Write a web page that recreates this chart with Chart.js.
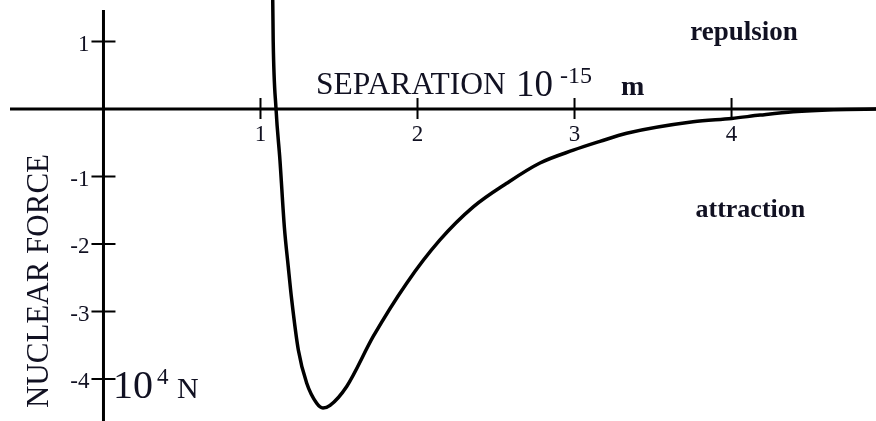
<!DOCTYPE html>
<html>
<head>
<meta charset="utf-8">
<script src="https://cdn.jsdelivr.net/npm/chart.js@4/dist/chart.umd.min.js"></script>
<style>
  html, body { margin: 0; padding: 0; background: #fff; }
  #wrap { width: 876px; height: 421px; position: relative; }
</style>
</head>
<body>
<div id="wrap"><canvas id="force-chart"></canvas></div>
<script>
  // separation in 1e-15 m, force in 1e4 N
  const separacion = [1.06, 1.078, 1.081, 1.099, 1.124, 1.152, 1.177, 1.199, 1.241, 1.294, 1.358, 1.398,
    1.443, 1.549, 1.718, 1.931, 2.143, 2.355, 2.568, 2.78, 2.992, 3.162, 3.332, 3.755, 4.001, 4.182,
    4.392, 4.65, 4.95];
  const fuerza = [2.4, 1.6, 1.0, 0, -0.76, -1.75, -2.34, -2.83, -3.57, -4.06, -4.36, -4.43,
    -4.39, -4.11, -3.37, -2.58, -1.94, -1.45, -1.10, -0.80, -0.61, -0.48, -0.36, -0.19, -0.14, -0.09,
    -0.04, -0.01, 0];

  const ticksX = [1, 2, 3, 4];
  const ticksY = [1, -1, -2, -3, -4];

  const SERIF = '"Liberation Serif", "Times New Roman", serif';
  const INK = '#111122';

  // draws both axes crossing at the origin, tick marks and all the text
  const ejes = {
    id: 'ejes',
    beforeDatasetsDraw(chart) {
      const { ctx, scales: { x, y } } = chart;
      const x0 = x.getPixelForValue(0);
      const y0 = y.getPixelForValue(0);
      ctx.save();
      ctx.strokeStyle = '#000';
      ctx.lineWidth = 3;
      ctx.beginPath();
      ctx.moveTo(10, y0); ctx.lineTo(chart.width, y0);
      ctx.moveTo(x0, 10); ctx.lineTo(x0, chart.height);
      ctx.stroke();

      ctx.lineWidth = 2;
      ctx.beginPath();
      ticksX.forEach(v => {
        const px = x.getPixelForValue(v);
        ctx.moveTo(px, y0 - 11); ctx.lineTo(px, y0 + 10);
      });
      ticksY.forEach(v => {
        const py = y.getPixelForValue(v);
        ctx.moveTo(x0 - 12, py); ctx.lineTo(x0 + 12, py);
      });
      ctx.stroke();

      ctx.fillStyle = INK;
      ctx.font = '23px ' + SERIF;
      ctx.textAlign = 'center';
      ctx.textBaseline = 'alphabetic';
      ticksX.forEach(v => ctx.fillText(String(v), x.getPixelForValue(v), y0 + 32));
      ctx.textAlign = 'right';
      ticksY.forEach(v => ctx.fillText(String(v), x0 - 14, y.getPixelForValue(v) + 9));
      ctx.restore();
    },
    afterDraw(chart) {
      const { ctx, scales: { x, y } } = chart;
      ctx.save();
      ctx.fillStyle = INK;
      ctx.textBaseline = 'alphabetic';
      ctx.textAlign = 'left';

      // eje x: SEPARATION 10^-15 m
      ctx.font = '31.5px ' + SERIF;
      ctx.fillText('SEPARATION', 316, 94);
      ctx.font = '37px ' + SERIF;
      ctx.fillText('10', 516, 96);
      ctx.font = '24px ' + SERIF;
      ctx.fillText('-15', 560, 83);
      ctx.font = 'bold 28px ' + SERIF;
      ctx.fillText('m', 621, 95);

      // eje y: 10^4 N
      ctx.font = '40px ' + SERIF;
      ctx.fillText('10', 113, 398);
      ctx.font = '23px ' + SERIF;
      ctx.fillText('4', 157, 384);
      ctx.font = '30px ' + SERIF;
      ctx.fillText('N', 177, 398);

      ctx.textAlign = 'center';
      ctx.font = 'bold 27px ' + SERIF;
      ctx.fillText('repulsion', x.getPixelForValue(4.08), y.getPixelForValue(1.02));
      ctx.font = 'bold 26px ' + SERIF;
      ctx.fillText('attraction', x.getPixelForValue(4.12), y.getPixelForValue(-1.6));

      // titulo vertical
      ctx.translate(48, 281);
      ctx.rotate(-Math.PI / 2);
      ctx.font = '31px ' + SERIF;
      ctx.fillText('NUCLEAR FORCE', 0, 0);
      ctx.restore();
    }
  };

  const ctx = document.getElementById('force-chart').getContext('2d');

  const chart = new Chart(ctx, {
    type: 'line',
    data: {
      datasets: [{
        data: separacion.map((s, i) => ({ x: s, y: fuerza[i] })),
        borderColor: '#000',
        borderWidth: 3.5,
        pointRadius: 0,
        fill: false,
        cubicInterpolationMode: 'monotone'
      }]
    },
    options: {
      responsive: true,
      maintainAspectRatio: false,
      animation: false,
      layout: { padding: 0 },
      plugins: {
        legend: { display: false },
        tooltip: { enabled: false }
      },
      scales: {
        x: { type: 'linear', display: false, min: -0.659, max: 4.92 },
        y: { type: 'linear', display: false, min: -4.622, max: 1.615 }
      }
    },
    plugins: [ejes]
  });
</script>
</body>
</html>
